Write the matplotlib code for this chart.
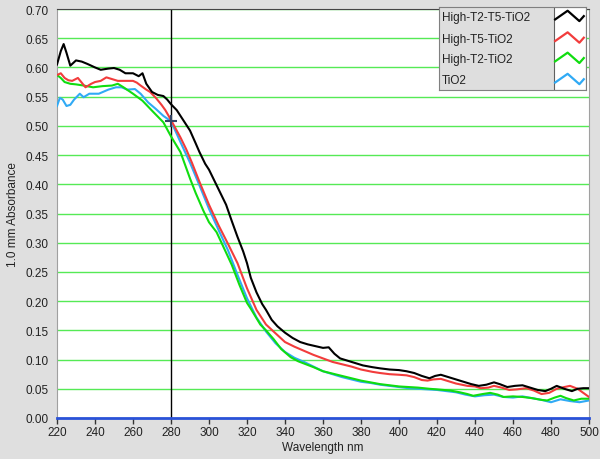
import matplotlib
matplotlib.use("Agg")
import matplotlib.pyplot as plt
from matplotlib.patches import Rectangle

plt.rcParams['font.family'] = ['Liberation Sans', 'DejaVu Sans']

# ---------------- data ----------------
series_names = ["High-T2-T5-TiO2", "High-T5-TiO2", "High-T2-TiO2", "TiO2"]
series_colors = ["#000000", "#f23c3c", "#10dd10", "#30aaf5"]

wl_black = [220, 222, 223.5, 225, 227, 230, 233, 236, 240, 243, 247, 250, 253, 256, 260, 263, 265, 267,
            270, 273, 276, 278, 280, 283, 286, 290, 293, 295, 298, 300, 303, 306, 309, 312, 315, 318,
            320, 322, 325, 328, 330, 333, 336, 340, 344, 348, 352, 356, 360, 363, 366, 369, 373, 377,
            381, 386, 390, 395, 400, 404, 408, 412, 416, 419, 422, 426, 430, 434, 438, 442, 446, 450,
            453, 457, 461, 465, 469, 473, 477, 480, 483, 487, 491, 494, 497, 500]
abs_black = [0.605, 0.628, 0.64, 0.625, 0.603, 0.612, 0.61, 0.606, 0.60, 0.596, 0.598, 0.599, 0.596, 0.59, 0.59, 0.585, 0.59, 0.572,
             0.558, 0.553, 0.551, 0.545, 0.537, 0.527, 0.512, 0.492, 0.47, 0.455, 0.435, 0.425, 0.405, 0.385, 0.365, 0.337, 0.31, 0.285,
             0.265, 0.24, 0.215, 0.195, 0.185, 0.168, 0.157, 0.146, 0.137, 0.13, 0.126, 0.123, 0.12, 0.121, 0.11, 0.102, 0.098, 0.094,
             0.09, 0.087, 0.085, 0.083, 0.082, 0.08, 0.077, 0.072, 0.068, 0.072, 0.074, 0.07, 0.066, 0.062, 0.058, 0.055, 0.057, 0.061,
             0.058, 0.053, 0.055, 0.056, 0.052, 0.048, 0.046, 0.05, 0.055, 0.05, 0.046, 0.05, 0.051, 0.051]

wl_red = [220, 222, 224, 226, 228, 231, 233, 235, 238, 240, 243, 246, 249, 252, 256, 260, 262, 264, 267, 269,
          272, 275, 277, 280, 282, 285, 288, 291, 295, 300, 305, 310, 315, 320, 325, 330, 335, 340, 345, 350,
          355, 360, 365, 370, 375, 380, 386, 390, 395, 400, 404, 408, 412, 415, 418, 422, 426, 430, 436, 440,
          443, 447, 450, 454, 458, 462, 467, 471, 475, 479, 483, 487, 490, 494, 497, 500]
abs_red = [0.587, 0.59, 0.582, 0.578, 0.577, 0.582, 0.574, 0.566, 0.572, 0.575, 0.577, 0.583, 0.58, 0.577, 0.577, 0.577, 0.574, 0.569, 0.562, 0.558,
           0.548, 0.536, 0.527, 0.51, 0.498, 0.48, 0.46, 0.437, 0.404, 0.365, 0.33, 0.298, 0.265, 0.222, 0.185, 0.16, 0.145, 0.13, 0.122, 0.115,
           0.108, 0.102, 0.096, 0.092, 0.088, 0.083, 0.079, 0.077, 0.075, 0.074, 0.073, 0.07, 0.065, 0.064, 0.066, 0.067, 0.063, 0.059, 0.055, 0.054,
           0.051, 0.052, 0.055, 0.052, 0.048, 0.049, 0.051, 0.047, 0.041, 0.043, 0.05, 0.053, 0.055, 0.05, 0.043, 0.036]

wl_green = [220, 222, 224, 227, 230, 234, 239, 244, 249, 252, 255, 260, 265, 270, 276, 280, 285, 290, 293, 297,
            300, 304, 308, 312, 316, 320, 322, 327, 330, 334, 338, 343, 347, 351, 355, 360, 365, 370, 375, 380,
            385, 390, 395, 400, 405, 410, 416, 420, 427, 432, 436, 439, 444, 448, 452, 455, 460, 465, 470, 475,
            478, 482, 485, 488, 492, 496, 500]
abs_green = [0.587, 0.582, 0.575, 0.572, 0.571, 0.569, 0.566, 0.568, 0.569, 0.572, 0.566, 0.555, 0.543, 0.526, 0.506, 0.482, 0.455, 0.41, 0.385, 0.355,
             0.335, 0.318, 0.29, 0.262, 0.228, 0.197, 0.187, 0.16, 0.15, 0.135, 0.118, 0.104, 0.097, 0.092, 0.087, 0.08, 0.076, 0.072, 0.068, 0.064,
             0.061, 0.058, 0.056, 0.054, 0.053, 0.052, 0.05, 0.049, 0.047, 0.044, 0.041, 0.038, 0.041, 0.043, 0.04, 0.036, 0.037, 0.036, 0.034, 0.031,
             0.03, 0.035, 0.038, 0.034, 0.03, 0.033, 0.033]

wl_blue = [220, 221.5, 223, 225, 227, 229, 232, 234, 237, 242, 247, 251, 254, 257, 261, 264, 268, 272, 276, 280,
           285, 290, 295, 300, 305, 310, 315, 320, 325, 330, 335, 340, 345, 350, 355, 360, 365, 370, 375, 380,
           385, 390, 395, 400, 405, 410, 415, 420, 425, 430, 435, 440, 445, 450, 455, 460, 465, 470, 475, 480,
           485, 490, 495, 500]
abs_blue = [0.534, 0.548, 0.545, 0.534, 0.536, 0.545, 0.555, 0.549, 0.555, 0.555, 0.562, 0.566, 0.566, 0.562, 0.563, 0.555, 0.54, 0.529, 0.517, 0.508,
            0.472, 0.437, 0.398, 0.358, 0.322, 0.287, 0.245, 0.205, 0.172, 0.148, 0.128, 0.113, 0.103, 0.096, 0.088, 0.08, 0.075, 0.07, 0.066, 0.062,
            0.06, 0.057, 0.055, 0.053, 0.051, 0.05, 0.049, 0.048, 0.046, 0.044, 0.04, 0.037, 0.039, 0.04, 0.036, 0.035, 0.037, 0.034, 0.031, 0.027,
            0.032, 0.029, 0.027, 0.03]

x_ticks = list(range(220, 501, 20))
y_ticks = [i * 0.05 for i in range(15)]
cursor_wl = 280
cursor_abs = 0.508

# ---------------- figure ----------------
W, H = 600, 460
fig = plt.figure(figsize=(W / 100, H / 100), dpi=100, facecolor="#dfdfdf")
ax = fig.add_axes([57 / W, 1 - 419 / H, (589 - 57) / W, (419 - 10) / H])
ax.set_facecolor("white")

for y in y_ticks[1:]:
    ax.axhline(y, color="#55ea55", lw=1.0, zorder=1)

ax.axvline(cursor_wl, color="black", lw=1.0, zorder=2)
ax.axhline(0, color="#2a52d8", lw=2.0, zorder=3, clip_on=False)

data = [(wl_blue, abs_blue, 3), (wl_green, abs_green, 2), (wl_red, abs_red, 1), (wl_black, abs_black, 0)]
for wl, ab, idx in data:
    ax.plot(wl, ab, color=series_colors[idx], lw=1.5, zorder=4)

ax.plot([cursor_wl], [cursor_abs], marker="+", ms=8, mew=1.5, color="#334466", zorder=6)

ax.set_xlim(220, 500)
ax.set_ylim(0, 0.70)
ax.set_xticks(x_ticks)
ax.set_yticks(y_ticks)
ax.set_yticklabels([f"{v:.2f}" for v in y_ticks])
ax.tick_params(axis="x", length=4, width=1, color="#333333", labelsize=8.5, labelcolor="#222222", pad=2)
ax.tick_params(axis="y", length=0, labelsize=8.5, labelcolor="#222222", pad=6)
for s in ["left", "bottom", "right"]:
    ax.spines[s].set_color("#a0a0a0")
ax.spines["top"].set_color("#444444")

ax.set_xlabel("Wavelength nm", fontsize=8.5, color="#222222", labelpad=2)
ax.set_ylabel("1.0 mm Absorbance", fontsize=8.5, color="#222222", labelpad=5)

# ---------------- legend box ----------------
lax = fig.add_axes([439 / W, 1 - 91 / H, (586 - 439) / W, (91 - 8) / H])
lax.set_facecolor("#dedede")
lax.set_xlim(0, 1)
lax.set_ylim(0, 1)
lax.set_xticks([])
lax.set_yticks([])
for s in lax.spines.values():
    s.set_color("#808080")
lax.add_patch(Rectangle((0.78, 0), 0.22, 1, facecolor="white", edgecolor="#606060", lw=0.8))
rows = [0.88, 0.62, 0.375, 0.12]
for name, col, ry in zip(series_names, series_colors, rows):
    lax.text(0.02, ry, name, fontsize=8.5, color="#222222", va="center", ha="left")
    lax.plot([0.79, 0.875, 0.955, 0.985], [ry - 0.03, ry + 0.075, ry - 0.05, ry + 0.01],
             color=col, lw=1.6)

fig.savefig("out.png", dpi=100, facecolor=fig.get_facecolor())
